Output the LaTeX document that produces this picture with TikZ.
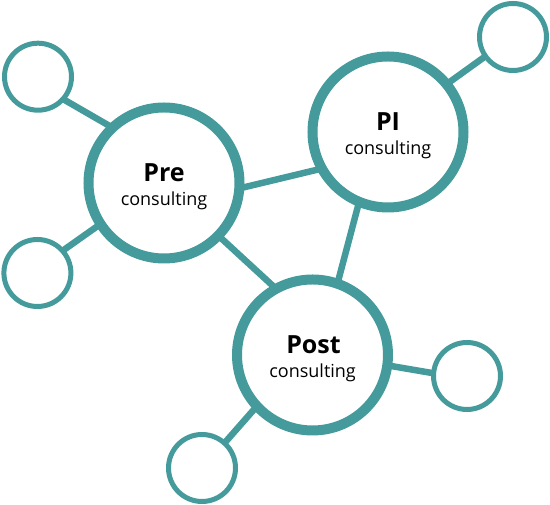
\documentclass[tikz,border=0pt]{standalone}
\usepackage{fontspec}
\setmainfont{Open Sans}
\usetikzlibrary{backgrounds}
\definecolor{teal1}{RGB}{69,155,156}
\begin{document}
\begin{tikzpicture}[x=1pt,y=1pt,
  big/.style={circle,draw=teal1,line width=10pt,fill=white,minimum size=151pt,inner sep=0pt},
  small/.style={circle,draw=teal1,line width=5pt,fill=white,minimum size=67pt,inner sep=0pt},
  link/.style={draw=teal1,line width=6.5pt,shorten <=-4pt,shorten >=-4pt},
  ttl/.style={anchor=base,inner sep=0pt,font=\fontsize{25}{30}\selectfont\bfseries},
  sub/.style={anchor=base,inner sep=0pt,font=\fontsize{18}{22}\selectfont}]
\useasboundingbox (0,0) rectangle (550,505);
\node[big] (pre) at (164,322) {};
\node[big] (pi) at (388,373) {};
\node[big] (post) at (312.5,150) {};
\node[small] (tl) at (38,428.3) {};
\node[small] (bl) at (37.4,232) {};
\node[small] (tr) at (513,468) {};
\node[small] (r) at (467,129) {};
\node[small] (b) at (202,37) {};
\node[ttl] (pret) at (164,323) {Pre};
\node[sub] (pres) at (164,299) {consulting};
\node[ttl] (pit) at (388,374) {PI};
\node[sub] (pis) at (388,350) {consulting};
\node[ttl] (postt) at (313.5,151) {Post};
\node[sub] (posts) at (312.6,127) {consulting};
\begin{scope}[on background layer]
\draw[link] (pre.-3.7) -- (pi.208.5);
\draw[link] (pre.-44.6) -- (post.120.9);
\draw[link] (pi.248.3) -- (post.71.8);
\draw[link] (pi.39) -- (tr.215.6);
\draw[link] (post.-8.2) -- (r.175.6);
\draw[link] (post.223.8) -- (b.48.6);
\draw[link] (tl.-41) -- (pre.134.7);
\draw[link] (bl.41.9) -- (pre.213);
\end{scope}
\end{tikzpicture}
\end{document}
